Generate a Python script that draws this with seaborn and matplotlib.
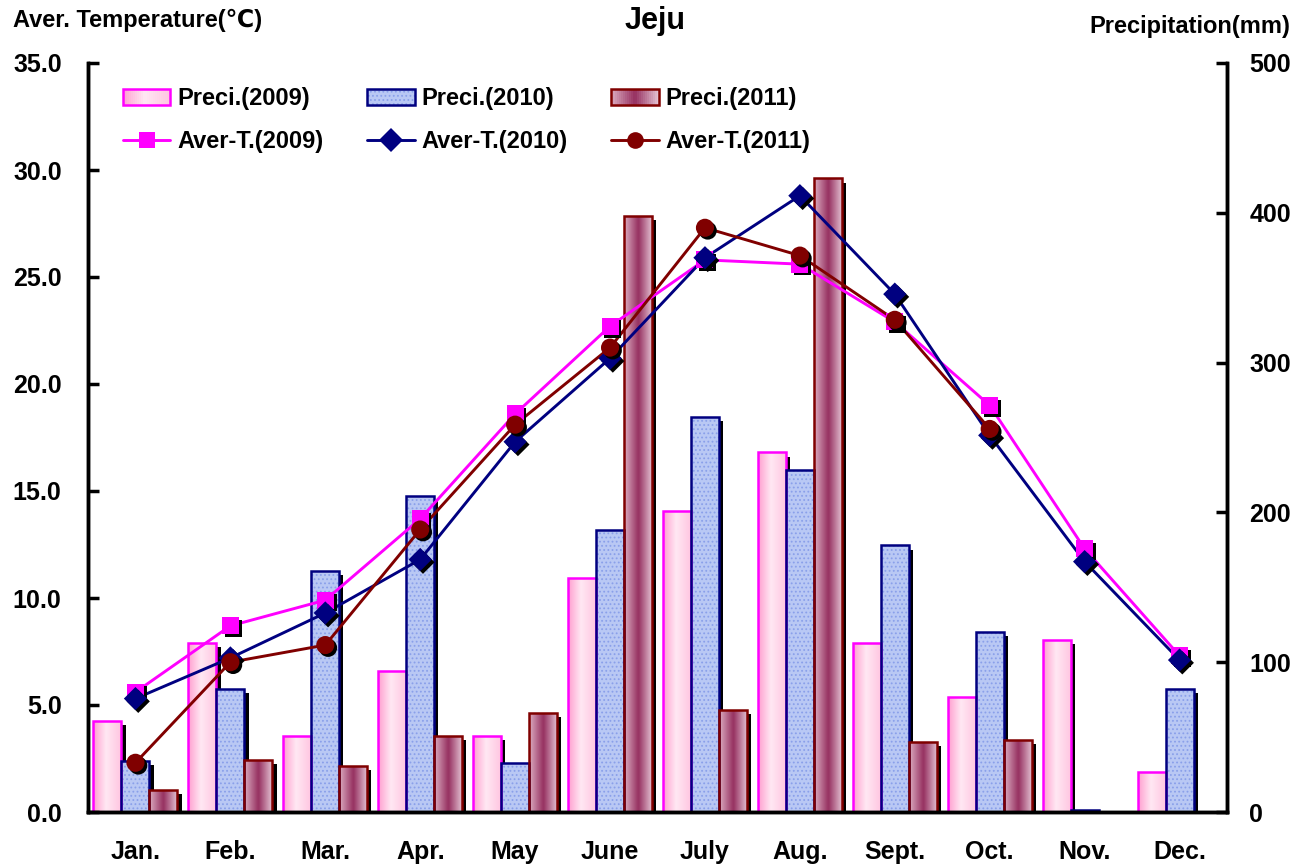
#!/usr/bin/env python3
# -*- coding: utf-8 -*-

import numpy as np
import pandas as pd
import matplotlib
matplotlib.use("Agg")
import matplotlib.pyplot as plt
import matplotlib.patheffects as pe
from matplotlib.colors import LinearSegmentedColormap
from matplotlib.patches import Rectangle
from matplotlib.lines import Line2D
from matplotlib.legend_handler import HandlerBase
import seaborn as sns

# Data
months = ["Jan.", "Feb.", "Mar.", "Apr.", "May", "June",
          "July", "Aug.", "Sept.", "Oct.", "Nov.", "Dec."]
years = ["2009", "2010", "2011"]

preci_2009 = [61, 113, 51, 94, 51, 156, 201, 240, 113, 77, 115, 27]
preci_2010 = [34, 82, 161, 211, 33, 188, 264, 228, 178, 120, 1.5, 82]
preci_2011 = [15, 35, 31, 51, 66, 398, 68, 423, 47, 48, 0, 0]

temp_2009 = [5.6, 8.7, 9.9, 13.7, 18.6, 22.7, 25.8, 25.6, 22.9, 19.0, 12.3, 7.3]
temp_2010 = [5.3, 7.2, 9.3, 11.8, 17.3, 21.2, 25.9, 28.8, 24.2, 17.6, 11.7, 7.1]
temp_2011 = [2.3, 7.0, 7.8, 13.2, 18.1, 21.7, 27.3, 26.0, 23.0, 17.9, np.nan, np.nan]

line_colors = {"2009": "#ff00ff", "2010": "#000080", "2011": "#800000"}
bar_faces = {"2009": "#ffd0e6", "2010": "#b9c8f4", "2011": "#b86a8e"}
markers = {"2009": "s", "2010": "D", "2011": "o"}
marker_sizes = {"2009": 150, "2010": 140, "2011": 170}

# Long tables for seaborn
df_p = pd.DataFrame({
    "month": months * 3,
    "year": np.repeat(years, 12),
    "preci": preci_2009 + preci_2010 + preci_2011,
})
df_t = pd.DataFrame({
    "pos": list(range(12)) * 3,
    "year": np.repeat(years, 12),
    "temp": temp_2009 + temp_2010 + temp_2011,
})

sns.set_style("white")
plt.rcParams["font.family"] = ["Liberation Sans", "DejaVu Sans"]
plt.rcParams["font.weight"] = "bold"
plt.rcParams["text.color"] = "black"
plt.rcParams["xtick.color"] = "black"
plt.rcParams["ytick.color"] = "black"
plt.rcParams["hatch.linewidth"] = 0.8

W, H = 1297, 868
fig = plt.figure(figsize=(W / 100, H / 100), dpi=100)
ax_p = fig.add_axes([88 / W, 1 - 812 / H, (1227 - 88) / W, (812 - 63) / H])

# Precipitation bars
sns.barplot(data=df_p, x="month", y="preci", hue="year", order=months,
            hue_order=years, palette=bar_faces, saturation=1, width=0.885,
            gap=0, legend=False, ax=ax_p)

grads = {
    "2009": LinearSegmentedColormap.from_list(
        "pk", [(0, "#ff9fd0"), (0.45, "#ffe8f3"), (1, "#ffc4e0")]),
    "2011": LinearSegmentedColormap.from_list(
        "mr", [(0, "#dcaec2"), (0.5, "#963060"), (1, "#e6c6d6")]),
}
ramp = np.linspace(0, 1, 64).reshape(1, -1)

for yr, cont in zip(years, ax_p.containers):
    for bar in cont.patches:
        h = bar.get_height()
        if not h or np.isnan(h):
            bar.set_visible(False)
            continue
        x0, w = bar.get_x(), bar.get_width()
        bar.set_edgecolor("none")
        bar.set_path_effects([pe.SimplePatchShadow(offset=(3, -3), shadow_rgbFace="black", alpha=1),
                              pe.Normal()])
        if yr in grads:
            im = ax_p.imshow(ramp, cmap=grads[yr], extent=[x0, x0 + w, 0, h],
                             aspect="auto", zorder=1.1, interpolation="bicubic")
            im.set_clip_path(bar)
        else:
            ax_p.add_patch(Rectangle((x0, 0), w, h, facecolor="none", edgecolor="#8aa0ea",
                                     hatch="....", linewidth=0, zorder=1.1))
        ax_p.add_patch(Rectangle((x0, 0), w, h, fill=False, edgecolor=line_colors[yr],
                                 linewidth=1.8, zorder=1.2))

ax_p.set_xlim(-0.5, 11.5)
ax_p.set_ylim(0, 500)

# Temperature lines on twin axis (drawn above the bars)
ax_t = ax_p.twinx()
sns.lineplot(data=df_t, x="pos", y="temp", hue="year", hue_order=years,
             palette=line_colors, linewidth=2.1, legend=False, ax=ax_t)
for yr in years:
    sns.scatterplot(data=df_t[df_t["year"] == yr], x="pos", y="temp",
                    color=line_colors[yr], marker=markers[yr], s=marker_sizes[yr],
                    linewidth=0, legend=False, ax=ax_t, zorder=3)
for coll in ax_t.collections:
    coll.set_path_effects([pe.SimplePatchShadow(offset=(2, -2), shadow_rgbFace="black", alpha=1),
                           pe.Normal()])
ax_t.set_ylim(0, 35)
ax_t.set_xlim(-0.5, 11.5)

# Axes styling: temperature on left, precipitation on right
ax_t.yaxis.tick_left()
ax_p.yaxis.tick_right()
ax_t.set_yticks(np.arange(0, 35.1, 5))
ax_t.set_yticklabels([f"{v:.1f}" for v in np.arange(0, 35.1, 5)])
ax_p.set_yticks(range(0, 501, 100))
ax_p.set_yticklabels([str(v) for v in range(0, 501, 100)])
ax_t.tick_params(axis="y", direction="in", length=8, width=2.5, labelsize=18, pad=19)
ax_p.tick_params(axis="y", direction="in", length=8, width=2.5, labelsize=18, pad=16)

ax_p.set_xticks(np.arange(0.5, 11, 1))
ax_p.set_xticklabels([])
ax_p.set_xticks(range(12), minor=True)
ax_p.set_xticklabels(months, minor=True)
ax_p.tick_params(axis="x", which="major", direction="in", length=6, width=2.5)
ax_p.tick_params(axis="x", which="minor", length=0, labelsize=18, pad=20)
ax_t.tick_params(axis="x", bottom=False, labelbottom=False)

for a in (ax_p, ax_t):
    a.set_xlabel("")
    a.set_ylabel("")
    a.spines["top"].set_visible(False)
    for s in ("left", "right", "bottom"):
        a.spines[s].set_linewidth(2.5)
        a.spines[s].set_color("black")


# Legend with gradient bar swatches
class GradientBarHandler(HandlerBase):
    def __init__(self, cmap, base, edge, hatch=None):
        super().__init__()
        self.cmap, self.base, self.edge, self.hatch = cmap, base, edge, hatch

    def create_artists(self, legend, orig_handle, xdescent, ydescent,
                       width, height, fontsize, trans):
        arts = []
        y0 = -ydescent + height * 0.02
        hh = height * 0.96
        if self.cmap is not None:
            n = 24
            for i in range(n):
                arts.append(Rectangle((-xdescent + i * width / n, y0), width / n + 0.3, hh,
                                      facecolor=self.cmap((i + 0.5) / n), linewidth=0,
                                      transform=trans))
        else:
            arts.append(Rectangle((-xdescent, y0), width, hh, facecolor=self.base,
                                  edgecolor="#8aa0ea", hatch=self.hatch, linewidth=0,
                                  transform=trans))
        arts.append(Rectangle((-xdescent, y0), width, hh, fill=False,
                              edgecolor=self.edge, linewidth=1.8, transform=trans))
        return arts


handles = []
labels = []
handler_map = {}
for yr in years:
    bar_h = Rectangle((0, 0), 1, 1)
    handler_map[bar_h] = GradientBarHandler(grads.get(yr), bar_faces[yr], line_colors[yr],
                                            hatch="...." if yr == "2010" else None)
    handles.append(bar_h)
    labels.append(f"Preci.({yr})")
    handles.append(Line2D([], [], color=line_colors[yr], linewidth=2.1,
                          marker=markers[yr], markersize=12, markeredgewidth=0))
    labels.append(f"Aver-T.({yr})")
ax_t.legend(handles, labels, handler_map=handler_map, ncol=3, frameon=False,
            fontsize=17, loc="upper left", bbox_to_anchor=(102 / W, 1 - 66 / H),
            bbox_transform=fig.transFigure, handlelength=2.0,
            handletextpad=0.3, columnspacing=1.85, labelspacing=0.85)

# Titles
fig.text(655 / W, 1 - 21 / H, "Jeju", ha="center", va="center",
         fontsize=22, fontweight="bold")
fig.text(13 / W, 1 - 20 / H, "Aver. Temperature(℃)", ha="left", va="center",
         fontsize=17, fontweight="bold")
fig.text(1290 / W, 1 - 26 / H, "Precipitation(mm)", ha="right", va="center",
         fontsize=17, fontweight="bold")

fig.savefig("out.png", dpi=100)
